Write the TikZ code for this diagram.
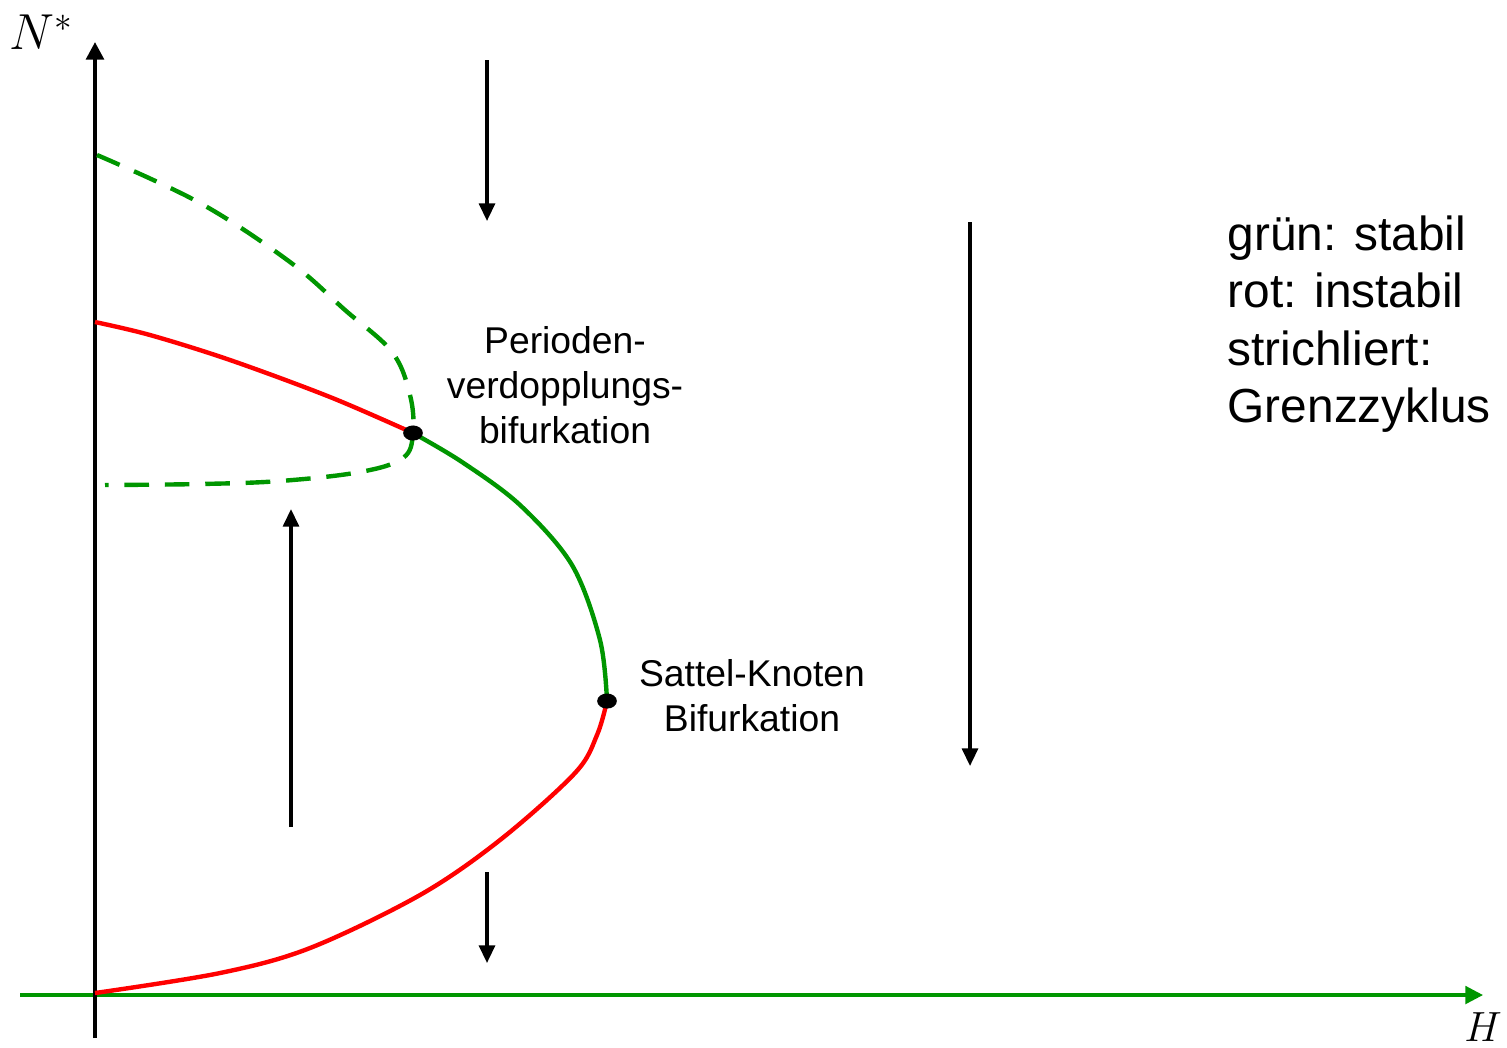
\documentclass[tikz,border=0pt]{standalone}
\usepackage{fontspec}
\setmainfont{Liberation Sans}
\usetikzlibrary{arrows.meta,shapes.geometric}
\definecolor{gr}{RGB}{0,150,0}
\definecolor{rd}{RGB}{255,0,0}
\begin{document}
\begin{tikzpicture}[x=0.01cm,y=-0.01cm,
  axis/.style={line width=1.1pt,-{Triangle[length=5pt,width=5pt]}},
  flow/.style={line width=0.95pt,-{Triangle[length=5pt,width=4.5pt]}},
  stab/.style={gr,line width=1.25pt},
  unst/.style={rd,line width=1.25pt},
  lim/.style={gr,line width=1.25pt,dash pattern=on 7pt off 4.5pt},
  lbl/.style={font=\fontsize{10.6}{12.8}\selectfont,align=center},
  leg/.style={font=\fontsize{13.6}{16.3}\selectfont,align=left,anchor=north west,inner sep=0pt},
  dot/.style={ellipse,fill=black,minimum width=5.6pt,minimum height=4.3pt,inner sep=0pt}]
\useasboundingbox (0,0) rectangle (1507,1047);
% axes
\coordinate (ystart) at (95,1038);
\coordinate (yend) at (95,42);
\coordinate (xstart) at (20,995);
\coordinate (xend) at (1483,995);
\draw[axis,gr,line width=0.9pt] (xstart) -- (xend);
\draw[axis] (ystart) -- (yend);
\node[font=\fontsize{14}{16}\selectfont,inner sep=0pt] (ylab) at (42,32) {$N^*$};
\node[font=\fontsize{13}{15}\selectfont,inner sep=0pt] (xlab) at (1483,1027) {$H$};
% curves
\coordinate (o) at (95,993);
\coordinate (pd) at (413,433);
\coordinate (sn) at (607,701);
\draw[unst] plot[smooth,tension=0.55] coordinates {(95,993) (220,973) (310,948) (420,895) (500,840) (575,773) (597,735) (607,701)};
\draw[stab] plot[smooth,tension=0.55] coordinates {(607,701) (600,640) (572,565) (520,505) (462,462) (413,433)};
\draw[unst] plot[smooth,tension=0.55] coordinates {(413,433) (330,397) (230,360) (150,335) (95,322)};
\draw[lim] plot[smooth,tension=0.6] coordinates {(97,155) (200,203) (290,262) (345,310) (392,352) (410,395) (413,433) (403,458) (360,472) (280,481) (200,484) (105,485)};
\node[dot] (pdd) at (pd) {};
\node[dot] (snd) at (sn) {};
% flow arrows
\coordinate (a1s) at (487,60); \coordinate (a1e) at (487,221);
\coordinate (a2s) at (970,222); \coordinate (a2e) at (970,766);
\coordinate (a3s) at (291,827); \coordinate (a3e) at (291,509);
\coordinate (a4s) at (487,872); \coordinate (a4e) at (487,963);
\draw[flow] (a1s) -- (a1e);
\draw[flow] (a2s) -- (a2e);
\draw[flow] (a3s) -- (a3e);
\draw[flow] (a4s) -- (a4e);
% labels
\node[lbl] (pdl) at (565,385) {Perioden-\\verdopplungs-\\bifurkation};
\node[lbl] (snl) at (752,696) {Sattel-Knoten\\Bifurkation};
\node[leg] (legend) at (1227,215) {grün: stabil\\rot: instabil\\strichliert:\\Grenzzyklus};
\end{tikzpicture}
\end{document}
